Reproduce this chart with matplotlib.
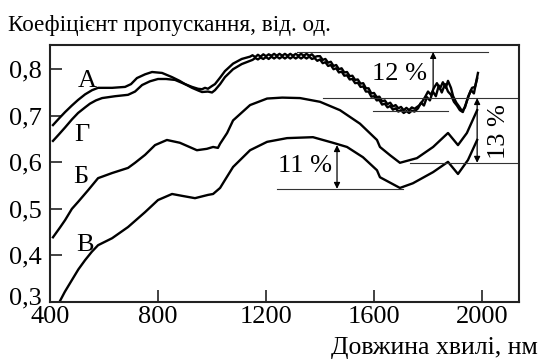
import matplotlib
matplotlib.use('Agg')
import matplotlib.pyplot as plt
from matplotlib.transforms import ScaledTranslation

plt.rcParams['font.family'] = ['Liberation Serif', 'DejaVu Serif']

# curve A (upper of the top pair)
wl_a = [411, 433, 456, 481, 504, 530, 556, 578, 630, 678, 700, 722, 752, 778, 815, 852,
        880, 900, 926, 948, 963, 974, 985, 1000, 1011, 1030, 1048, 1078, 1110, 1141,
        1150, 1160, 1170, 1180, 1190, 1200, 1210, 1220, 1230, 1240, 1250, 1260, 1270, 1280,
        1290, 1300, 1310, 1320, 1330, 1340, 1350, 1360, 1370, 1380, 1390,
        1400, 1410, 1420, 1430, 1440, 1450, 1460, 1470, 1480, 1490, 1500, 1510, 1520, 1530,
        1540, 1550, 1560, 1570, 1580, 1590, 1600, 1610, 1620, 1630, 1640, 1650, 1660, 1670,
        1680, 1690, 1700, 1710, 1720, 1730, 1740, 1750,
        1767, 1778, 1789, 1800, 1811, 1822, 1833, 1844, 1855, 1866, 1874, 1885, 1893, 1905,
        1915, 1926, 1937, 1948, 1959, 1970, 1985]
t_a = [0.680, 0.694, 0.708, 0.722, 0.734, 0.746, 0.755, 0.760, 0.760, 0.762, 0.768, 0.781,
       0.789, 0.794, 0.792, 0.783, 0.775, 0.768, 0.762, 0.758, 0.757, 0.760, 0.758, 0.764,
       0.768, 0.782, 0.796, 0.812, 0.822, 0.827,
       0.830, 0.826, 0.831, 0.827, 0.832, 0.828, 0.832, 0.829, 0.833, 0.829, 0.833, 0.829,
       0.833, 0.829, 0.833, 0.829, 0.833, 0.829, 0.833, 0.829, 0.833, 0.829, 0.832, 0.826,
       0.828,
       0.828, 0.820, 0.822, 0.814, 0.816, 0.807, 0.809, 0.800, 0.802, 0.793, 0.794, 0.785,
       0.786, 0.777, 0.778, 0.769, 0.770, 0.759, 0.759, 0.748, 0.749, 0.740, 0.741, 0.731,
       0.733, 0.725, 0.728, 0.720, 0.723, 0.716, 0.719, 0.712, 0.717, 0.712, 0.718, 0.715,
       0.722, 0.730, 0.740, 0.752, 0.745, 0.760, 0.770, 0.758, 0.772, 0.760, 0.775, 0.760,
       0.742, 0.728, 0.720, 0.710, 0.718, 0.740, 0.755, 0.748, 0.792]

# curve G (lower of the top pair)
wl_g = [411, 433, 456, 481, 504, 530, 548, 570, 593, 641, 689, 715, 741, 770, 800, 830,
        863, 900, 926, 950, 963, 985, 1000, 1011, 1030, 1048, 1078, 1110, 1141,
        1150, 1160, 1170, 1180, 1190, 1200, 1210, 1220, 1230, 1240, 1250, 1260, 1270, 1280,
        1290, 1300, 1310, 1320, 1330, 1340, 1350, 1360, 1370, 1380, 1390,
        1400, 1410, 1420, 1430, 1440, 1450, 1460, 1470, 1480, 1490, 1500, 1510, 1520, 1530,
        1540, 1550, 1560, 1570, 1580, 1590, 1600, 1610, 1620, 1630, 1640, 1650, 1660, 1670,
        1680, 1690, 1700, 1710, 1720, 1730, 1740, 1750,
        1763, 1774, 1785, 1796, 1807, 1818, 1829, 1840, 1851, 1863, 1874, 1885, 1896, 1907,
        1918, 1929, 1940, 1952, 1963, 1974, 1982]
t_g = [0.646, 0.660, 0.675, 0.692, 0.706, 0.718, 0.726, 0.733, 0.738, 0.742, 0.745, 0.752,
       0.766, 0.774, 0.779, 0.779, 0.777, 0.768, 0.760, 0.754, 0.751, 0.752, 0.750, 0.755,
       0.768, 0.783, 0.800, 0.811, 0.818,
       0.820, 0.824, 0.821, 0.825, 0.822, 0.826, 0.822, 0.827, 0.823, 0.827, 0.823, 0.827,
       0.823, 0.827, 0.823, 0.827, 0.823, 0.827, 0.823, 0.827, 0.823, 0.827, 0.822, 0.824,
       0.818,
       0.821, 0.813, 0.815, 0.807, 0.809, 0.800, 0.802, 0.793, 0.795, 0.786, 0.787, 0.778,
       0.779, 0.770, 0.771, 0.762, 0.763, 0.752, 0.752, 0.741, 0.742, 0.733, 0.734, 0.724,
       0.726, 0.718, 0.721, 0.713, 0.716, 0.709, 0.712, 0.706, 0.710, 0.706, 0.711, 0.709,
       0.716, 0.728, 0.722, 0.740, 0.733, 0.752, 0.742, 0.765, 0.750, 0.768, 0.752, 0.745,
       0.730, 0.722, 0.712, 0.708, 0.725, 0.745, 0.760, 0.762, 0.780]

# curve B (Cyrillic Б)
wl_b = [411, 437, 456, 481, 504, 541, 578, 630, 689, 715, 752, 789, 833, 881, 944, 981,
        1004, 1022, 1030, 1056, 1078, 1141, 1204, 1260, 1326, 1400, 1474, 1548, 1611, 1622,
        1660, 1696, 1759, 1819, 1874, 1911, 1944, 1982]
t_b = [0.439, 0.460, 0.476, 0.500, 0.515, 0.540, 0.566, 0.577, 0.588, 0.599, 0.616, 0.637,
       0.648, 0.642, 0.626, 0.629, 0.633, 0.631, 0.640, 0.663, 0.690, 0.723, 0.737, 0.739,
       0.738, 0.730, 0.712, 0.683, 0.648, 0.633, 0.615, 0.599, 0.609, 0.633, 0.663, 0.637,
       0.663, 0.712]

# curve V (Cyrillic В)
wl_v = [435, 455, 481, 505, 530, 555, 578, 630, 689, 752, 800, 852, 889, 937, 985, 1004,
        1030, 1048, 1078, 1141, 1204, 1278, 1374, 1448, 1500, 1559, 1611, 1622, 1696, 1744,
        1819, 1874, 1911, 1948, 1982]
t_v = [0.300, 0.322, 0.347, 0.370, 0.390, 0.408, 0.422, 0.437, 0.461, 0.493, 0.519, 0.532,
       0.528, 0.523, 0.530, 0.532, 0.545, 0.562, 0.590, 0.626, 0.644, 0.652, 0.654, 0.642,
       0.633, 0.611, 0.583, 0.568, 0.545, 0.555, 0.579, 0.601, 0.575, 0.605, 0.648]

curve_labels = ['А', 'Г', 'Б', 'В']
label_x = [537, 519, 515, 530]
label_y = [0.775, 0.659, 0.568, 0.422]

y_ticks = [0.3, 0.4, 0.5, 0.6, 0.7, 0.8]
y_tick_labels = ['0,3', '0,4', '0,5', '0,6', '0,7', '0,8']
x_ticks = [400, 800, 1200, 1600, 2000]

fig = plt.figure(figsize=(5.46, 3.6), dpi=100)
ax = fig.add_axes([50 / 546, 1 - 302 / 360, 469 / 546, 257 / 360])

for wl, t in [(wl_a, t_a), (wl_g, t_g), (wl_b, t_b), (wl_v, t_v)]:
    ax.plot(wl, t, color='black', lw=1.7, solid_joinstyle='round')

for s, x, y in zip(curve_labels, label_x, label_y):
    ax.text(x, y, s, fontsize=19, ha='center', va='center')

# guide lines
line_kw = dict(color='#333333', lw=0.8)
ax.plot([1315, 2022], [0.837, 0.837], **line_kw)
ax.plot([1596, 1874], [0.710, 0.710], **line_kw)
ax.plot([1411, 2137], [0.738, 0.738], **line_kw)
ax.plot([1733, 2137], [0.599, 0.599], **line_kw)
ax.plot([1241, 1707], [0.543, 0.543], **line_kw)

arr = dict(color='black', lw=0.9, mutation_scale=9, shrinkA=0, shrinkB=0)
ax.annotate('', xy=(1819, 0.837), xytext=(1819, 0.75),
            arrowprops=dict(arrowstyle='-|>', **arr))
ax.annotate('', xy=(1982, 0.738), xytext=(1982, 0.599),
            arrowprops=dict(arrowstyle='<|-|>', **arr))
ax.annotate('', xy=(1463, 0.637), xytext=(1463, 0.543),
            arrowprops=dict(arrowstyle='<|-|>', **arr))

ax.text(1696, 0.790, '12 %', fontsize=19, ha='center', va='center')
ax.text(2063, 0.667, '13 %', fontsize=19, ha='center', va='center', rotation=90)
ax.text(1344, 0.592, '11 %', fontsize=19, ha='center', va='center')

ax.set_xlim(400, 2137)
ax.set_ylim(0.3, 0.852)
ax.set_xticks(x_ticks)
ax.set_xticklabels([str(v) for v in x_ticks])
ax.set_yticks(y_ticks)
ax.set_yticklabels(y_tick_labels)
ax.tick_params(direction='in', length=8.5, width=1.2, labelsize=19, color='#222222')
ax.tick_params(axis='x', pad=3)
ax.tick_params(axis='y', pad=6)
for sp in ax.spines.values():
    sp.set_linewidth(1.5)
    sp.set_color('#222222')

# lift the lowest y label a little so it clears the "400" label, as in the original
low = ax.yaxis.get_major_ticks()[0].label1
low.set_transform(low.get_transform() + ScaledTranslation(0, 6 / 100, fig.dpi_scale_trans))

fig.text(8 / 546, 1 - 31 / 360, 'Коефіцієнт пропускання, від. од.', fontsize=16.7,
         va='baseline', ha='left')
fig.text(538 / 546, 1 - 354 / 360, 'Довжина хвилі, нм', fontsize=18.5,
         va='baseline', ha='right')

fig.savefig('out.png', dpi=100)
